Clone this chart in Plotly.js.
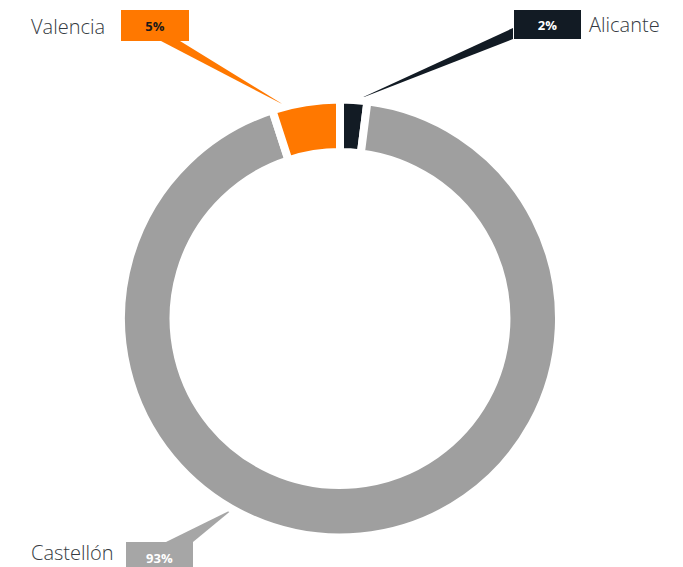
<!DOCTYPE html>
<html>
<head>
<meta charset="utf-8">
<script src="https://cdn.plot.ly/plotly-3.0.1.min.js"></script>
<style>html,body{margin:0;padding:0;background:#fff;}#chart{width:683px;height:567px;}</style>
</head>
<body>
<div id="chart"></div>
<script>
// ---- data ----
const categories = ['Alicante', 'Castellón', 'Valencia'];
const values = [2, 93, 5];
const colors = ['#121b24', '#9f9f9f', '#ff7800'];

// ---- layout helpers (positions in px, converted to paper) ----
const W = 683, H = 567;
const px = x => x / W;
const py = y => 1 - y / H;
const cx = 340, cy = 318.5, R = 219;

// label boxes: [left, top, right, bottom] px, box colour, text colour, name pos, wedge polygon
const labelCfg = {
  'Alicante':  {box: [514, 10, 581, 39], bg: '#121b24', fg: '#ffffff', name: {x: 587, y: 25, anchor: 'left'},
                wedge: [[513, 28], [513, 39], [359, 99]]},
  'Castellón': {box: [126, 542, 193, 573], bg: '#a6a6a6', fg: '#ffffff', name: {x: 116, y: 552, anchor: 'right'},
                wedge: [[166, 542], [193, 542], [233, 509]]},
  'Valencia':  {box: [121, 10, 189, 41], bg: '#ff7800', fg: '#1a1a1a', name: {x: 107, y: 26, anchor: 'right'},
                wedge: [[161, 41], [180, 41], [284, 105]]}
};

const total = values.reduce((a, b) => a + b, 0);
const annotations = [];
const shapes = [];
categories.forEach((c, i) => {
  const cfg = labelCfg[c];
  const pct = Math.round(values[i] / total * 100) + '%';
  const [l, t, r, b] = cfg.box;
  shapes.push({
    type: 'path', xref: 'paper', yref: 'paper', layer: 'below',
    path: 'M' + cfg.wedge.map(p => px(p[0]) + ',' + py(p[1])).join(' L') + ' Z',
    fillcolor: cfg.bg, line: {width: 0}
  });
  annotations.push({
    xref: 'paper', yref: 'paper', x: px((l + r) / 2), y: py((t + b) / 2),
    xanchor: 'center', yanchor: 'middle', showarrow: false,
    text: '<b>' + pct + '</b>', width: r - l, height: b - t,
    bgcolor: cfg.bg, borderpad: 0, borderwidth: 0,
    font: {family: 'Open Sans, sans-serif', size: 13, color: cfg.fg}
  });
  annotations.push({
    xref: 'paper', yref: 'paper', x: px(cfg.name.x), y: py(cfg.name.y),
    xanchor: cfg.name.anchor, yanchor: 'middle', showarrow: false,
    text: c, font: {family: 'Open Sans, sans-serif', size: 20, weight: 300, color: '#353a41'}
  });
});

const trace = {
  type: 'pie',
  labels: categories,
  values: values,
  sort: false,
  direction: 'clockwise',
  rotation: 0,
  hole: 0.76,
  textinfo: 'none',
  hoverinfo: 'label+percent',
  marker: {colors: colors, line: {color: '#ffffff', width: 8}},
  domain: {x: [px(cx - R), px(cx + R)], y: [py(cy + R), py(cy - R)]}
};

const layout = {
  width: W, height: H,
  margin: {l: 0, r: 0, t: 0, b: 0},
  showlegend: false,
  paper_bgcolor: '#ffffff',
  annotations: annotations,
  shapes: shapes
};

Plotly.newPlot('chart', [trace], layout, {displayModeBar: false, staticPlot: true});
</script>
</body>
</html>
